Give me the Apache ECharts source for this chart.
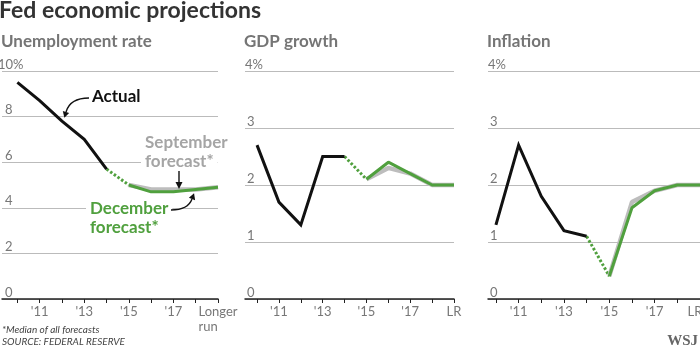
<!DOCTYPE html>
<html>
<head>
<meta charset="utf-8">
<script src="https://cdn.jsdelivr.net/npm/echarts@6/dist/echarts.min.js"></script>
<style>
  html, body { margin: 0; padding: 0; background: #fff; }
  #chart { width: 700px; height: 350px; }
</style>
</head>
<body>
<div id="chart"></div>
<script>
// periods on the x axis, 'LR' = longer run
var periods = ['2010', '2011', '2012', '2013', '2014', '2015', '2016', '2017', '2018', 'LR'];
var tickLabels = ["'11", "'13", "'15", "'17", 'LR'];
var tickLabelAt = [1, 3, 5, 7, 9];

// Unemployment rate, %
var unempActual = [9.5, 8.7, 7.8, 7.0, 5.7];
var unempSept = [5.0, 4.8, 4.8, 4.8, 4.9];
var unempDec = [5.0, 4.7, 4.7, 4.8, 4.9];

// GDP growth, %
var gdpActual = [2.7, 1.7, 1.3, 2.5, 2.5];
var gdpSept = [2.1, 2.3, 2.2, 2.0, 2.0];
var gdpDec = [2.1, 2.4, 2.2, 2.0, 2.0];

// Inflation, %
var inflActual = [1.3, 2.7, 1.8, 1.2, 1.1];
var inflSept = [0.4, 1.7, 1.9, 2.0, 2.0];
var inflDec = [0.4, 1.6, 1.9, 2.0, 2.0];

var FONT = 'Lato';
var GREEN = '#50a03e';
var GREY_LINE = '#bdbdbd';

var panels = [
  { title: 'Unemployment rate', actual: unempActual, sept: unempSept, dec: unempDec,
    left: 2, width: 216, xmin: -0.69, ymax: 10, yint: 2, numPad: 7, yOff: 4, lastLabel: 'longer' },
  { title: 'GDP growth', actual: gdpActual, sept: gdpSept, dec: gdpDec,
    left: 245, width: 209, xmin: -0.55, ymax: 4, yint: 1, numPad: 2, yOff: 0, lastLabel: 'lr' },
  { title: 'Inflation', actual: inflActual, sept: inflSept, dec: inflDec,
    left: 488, width: 212, xmin: -0.35, ymax: 4, yint: 1, numPad: 2, yOff: 0, lastLabel: 'lrEdge' }
];

function pts(values, start) {
  return values.map(function (v, i) { return [start + i, v]; });
}

var grids = [], xAxes = [], yAxes = [], series = [], titles = [];

titles.push({
  text: 'Fed economic projections', left: -1, top: -1, padding: 0,
  textStyle: { fontFamily: FONT, fontSize: 23, fontWeight: 'bold', color: '#333' }
});

panels.forEach(function (p, k) {
  titles.push({
    text: p.title, left: p.left - 1, top: 33, padding: 0,
    textStyle: { fontFamily: FONT, fontSize: 17, fontWeight: 'bold', color: '#757575' }
  });
  grids.push({ left: p.left, width: p.width, top: 71, height: 228, outerBoundsMode: 'none' });

  xAxes.push({
    type: 'value', gridIndex: k, min: p.xmin, max: 9,
    axisLine: { onZero: false, lineStyle: { color: '#222', width: 1.5 } },
    axisTick: { length: 4, lineStyle: { color: '#222', width: 1 },
      customValues: periods.map(function (d, i) { return i; }) },
    splitLine: { show: false },
    axisLabel: {
      customValues: tickLabelAt,
      margin: 5,
      fontFamily: FONT, fontSize: 13, color: '#777', lineHeight: 15,
      formatter: function (v) {
        var lab = tickLabels[tickLabelAt.indexOf(Math.round(v))];
        if (lab === 'LR') {
          if (p.lastLabel === 'longer') return '{lg|Longer}\n{lg|run}';
          if (p.lastLabel === 'lrEdge') return '{edge|LR}';
        }
        return lab;
      },
      rich: {
        lg: { fontFamily: FONT, fontSize: 13, color: '#777', lineHeight: 15, align: 'left' },
        edge: { fontFamily: FONT, fontSize: 13, color: '#777', lineHeight: 15, padding: [0, 10, 0, 0] }
      }
    }
  });

  yAxes.push({
    type: 'value', gridIndex: k, min: 0, max: p.ymax, interval: p.yint, offset: p.yOff,
    axisLine: { show: false, onZero: false }, axisTick: { show: false },
    splitLine: { lineStyle: { color: '#bbb', width: 1 } },
    axisLabel: {
      inside: true, margin: 0, verticalAlign: 'bottom',
      formatter: function (v) {
        return v === p.ymax ? '{top|' + v + '%}' : '{num|' + v + '}';
      },
      rich: {
        top: { fontFamily: FONT, fontSize: 13, color: '#777', lineHeight: 13 },
        num: { fontFamily: FONT, fontSize: 13, color: '#777', lineHeight: 13, padding: [0, 0, 0, p.numPad] }
      }
    }
  });

  series.push({
    type: 'line', xAxisIndex: k, yAxisIndex: k, symbol: 'none', z: 3,
    data: pts(p.actual, 0),
    lineStyle: { color: '#111', width: 3, join: 'miter' }
  });
  series.push({
    type: 'line', xAxisIndex: k, yAxisIndex: k, symbol: 'none', z: 2,
    data: [[4, p.actual[4]], [5, p.dec[0]]],
    lineStyle: { color: GREEN, width: 3, type: [2.5, 2] }
  });
  series.push({
    type: 'line', xAxisIndex: k, yAxisIndex: k, symbol: 'none', z: 2,
    data: pts(p.sept, 5),
    lineStyle: { color: GREY_LINE, width: 4.5 }
  });
  series.push({
    type: 'line', xAxisIndex: k, yAxisIndex: k, symbol: 'none', z: 3,
    data: pts(p.dec, 5),
    lineStyle: { color: GREEN, width: 3 }
  });
});

// curved annotation arrow: quadratic curve plus a filled head
function arrow(x0, y0, cx, cy, x1, y1) {
  var dx = x1 - cx, dy = y1 - cy, len = Math.sqrt(dx * dx + dy * dy);
  dx /= len; dy /= len;
  var L = 6, W = 3.3;
  return [
    { type: 'bezierCurve', z: 10, shape: { x1: x0, y1: y0, x2: x1, y2: y1, cpx1: cx, cpy1: cy },
      style: { stroke: '#111', lineWidth: 1.4, fill: null } },
    { type: 'polygon', z: 10, shape: { points: [
        [x1 + dx * L, y1 + dy * L], [x1 - dy * W, y1 + dx * W], [x1 + dy * W, y1 - dx * W]] },
      style: { fill: '#111' } }
  ];
}

function label(text, x, y, color, bg) {
  var st = { text: text, x: x, y: y, fill: color, font: 'bold 17px ' + FONT,
    align: 'left', verticalAlign: 'middle' };
  if (bg) { st.backgroundColor = '#fff'; st.padding = [0, 4]; }
  return { type: 'text', z: 9, style: st };
}

var graphics = [
  label('Actual', 92, 97, '#111'),
  label('September', 141, 143, '#a5a5a5', true),
  label('forecast*', 141, 162, '#a5a5a5', true),
  label('December', 86, 209, GREEN, true),
  label('forecast*', 86, 228, GREEN, true),
  { type: 'line', z: 10, shape: { x1: 179, y1: 171, x2: 179, y2: 183 }, style: { stroke: '#111', lineWidth: 1.4 } },
  { type: 'polygon', z: 10, shape: { points: [[179, 189], [175.5, 182], [182.5, 182]] }, style: { fill: '#111' } },
  { type: 'text', style: { text: '*Median of all forecasts', x: 2, y: 330, fill: '#444',
      font: 'italic 10px ' + FONT, verticalAlign: 'middle' } },
  { type: 'text', style: { text: 'SOURCE: FEDERAL RESERVE', x: 2, y: 341.5, fill: '#444',
      font: 'italic 10px ' + FONT, verticalAlign: 'middle' } },
  { type: 'text', style: { text: 'WSJ', x: 698, y: 341, fill: '#666',
      font: 'bold 15px "Liberation Serif"', align: 'right', verticalAlign: 'middle' } }
]
  .concat(arrow(89, 98, 70, 98, 66, 112))
  .concat(arrow(171, 210, 188, 210, 192, 199));

var chart = echarts.init(document.getElementById('chart'), null, { renderer: 'canvas' });
chart.setOption({
  animation: false,
  backgroundColor: '#fff',
  textStyle: { fontFamily: FONT },
  title: titles,
  grid: grids,
  xAxis: xAxes,
  yAxis: yAxes,
  series: series,
  graphic: graphics
});
</script>
</body>
</html>
